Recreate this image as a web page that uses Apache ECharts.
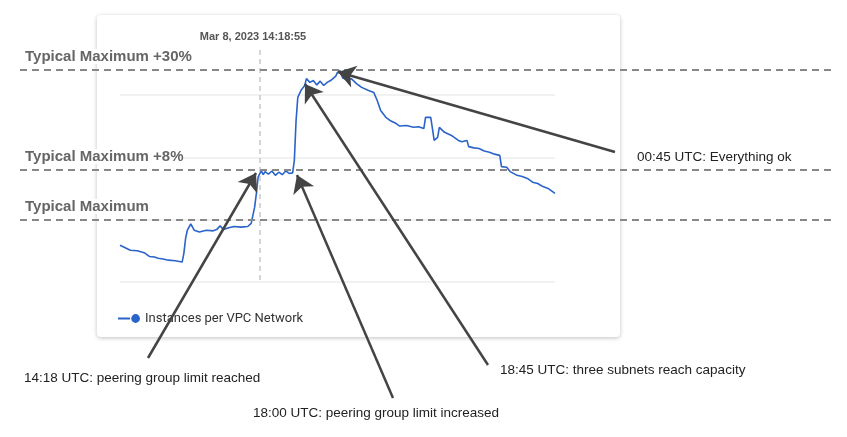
<!DOCTYPE html>
<html><head><meta charset="utf-8">
<script src="https://cdn.jsdelivr.net/npm/echarts@6/dist/echarts.min.js"></script>
<style>html,body{margin:0;padding:0;background:#fff}#c{width:847px;height:437px}</style>
</head><body><div id="c"></div>
<script>
// time proxy (relative units) and instance-count values (% scale)
const times = [90,105,120,140,160,165,175,190,200,215,230,250,270,275,280,285,295,305,320,340,360,370,380,390,405,420,440,460,470,480,485,490,495,500,505,510,520,530,540,550,560,570,580,590,595,600,605,615,625,630,640,650,660,670,680,690,700,715,720,727,735,750,760,775,790,810,825,835,845,860,875,890,900,920,940,955,970,975,990,995,1000,1010,1015,1030,1050,1070,1080,1095,1100,1115,1130,1145,1160,1175,1190,1195,1210,1220,1240,1255,1270,1285,1300,1315,1330,1350];
const values = [59,55,51,50,47,50,41,40,38,37,35,34,32,46,70,83,93,83,80,83,82,84,90,84,87,89,88,89,94,120,142,168,174,178,172,177,173,178,171,176,172,178,174,175,195,259,296,308,315,326,320,323,316,322,315,320,323,330,336,339,327,324,326,318,312,307,304,291,275,264,258,254,250,251,248,249,246,264,264,246,227,232,248,240,235,227,225,227,217,215,214,210,208,205,203,185,184,177,171,169,166,160,158,153,150,142];
const seriesName = 'Instances per VPC Network';
const refLines = [{label:'Typical Maximum +30%', y:70},{label:'Typical Maximum +8%', y:170},{label:'Typical Maximum', y:220}];
const arrows = [
 {from:[615,152], to:[338,72]},
 {from:[148,358], to:[256,173]},
 {from:[393,398], to:[297,175]},
 {from:[488,365], to:[305,84]}
];
const notes = [
 {text:'00:45 UTC: Everything ok', x:637, y:157},
 {text:'14:18 UTC: peering group limit reached', x:24, y:378},
 {text:'18:00 UTC: peering group limit increased', x:253, y:413},
 {text:'18:45 UTC: three subnets reach capacity', x:500, y:370}
];
const cursorTime = 'Mar 8, 2023 14:18:55';

const chart = echarts.init(document.getElementById('c'));
const data = times.map((t,i)=>[t,values[i]]);
chart.setOption({
 animation:false,
 graphic:[
  {type:'rect', z:-10, shape:{x:97,y:15,width:523,height:322,r:4}, style:{fill:'#fff', shadowBlur:4, shadowColor:'rgba(0,0,0,0.25)', shadowOffsetY:1}},
  {type:'line', z:1, shape:{x1:260,y1:50,x2:260,y2:282}, style:{stroke:'#c8c8c8', lineWidth:1.5, lineDash:[5,4]}},
  {type:'text', z:100, x:253, y:31, style:{text:cursorTime, fill:'#555', font:'bold 11px "Liberation Sans", Arial', textAlign:'center'}},
  ...refLines.map(r=>({type:'text', z:100, x:25, y:r.y-21, style:{text:r.label, fill:'#666', font:'bold 15px "Liberation Sans", Arial', backgroundColor:'#fff'}})),
  ...notes.map(n=>({type:'text', z:100, x:n.x, y:n.y-7, style:{text:n.text, fill:'#222', font:'13.5px "Liberation Sans", Arial'}}))
 ],
 legend:{left:113, top:307, data:[{name:seriesName, icon:'path://M0,9 L11,9 L11,11 L0,11 Z M12,10 A4,4 0 1 0 20,10 A4,4 0 1 0 12,10 Z'}], itemWidth:22, itemHeight:10, textStyle:{color:'#333', fontSize:13, fontFamily:'Roboto'}},
 grid:[
  {left:120, right:292, top:32.5, bottom:155},
  {left:0, right:0, top:0, bottom:0}
 ],
 xAxis:[
  {gridIndex:0, type:'value', min:90, max:1350, show:false},
  {gridIndex:1, type:'value', min:0, max:847, show:false}
 ],
 yAxis:[
  {gridIndex:0, type:'value', min:0, max:400, interval:100, axisLabel:{show:false}, axisLine:{show:false}, axisTick:{show:false},
   splitLine:{lineStyle:{color:['#ececec','#ececec','#ececec','#ececec','rgba(0,0,0,0)'], width:1.5}}},
  {gridIndex:1, type:'value', min:0, max:437, inverse:true, show:false}
 ],
 series:[
  {name:seriesName, type:'line', xAxisIndex:0, yAxisIndex:0, data:data, showSymbol:false, symbol:'circle', color:'#2a63c9', lineStyle:{width:1.6}},
  {type:'lines', coordinateSystem:'cartesian2d', xAxisIndex:1, yAxisIndex:1, z:5,
   data:refLines.map(r=>({coords:[[20,r.y],[835,r.y]]})),
   lineStyle:{color:'#888', width:1.8, type:[7,5], opacity:1}},
  {type:'lines', coordinateSystem:'cartesian2d', xAxisIndex:1, yAxisIndex:1, z:6,
   symbol:['none','arrow'], symbolSize:17,
   data:arrows.map(a=>({coords:[a.from,a.to]})),
   lineStyle:{color:'#444', width:2.5, opacity:1}}
 ]
});
</script></body></html>
